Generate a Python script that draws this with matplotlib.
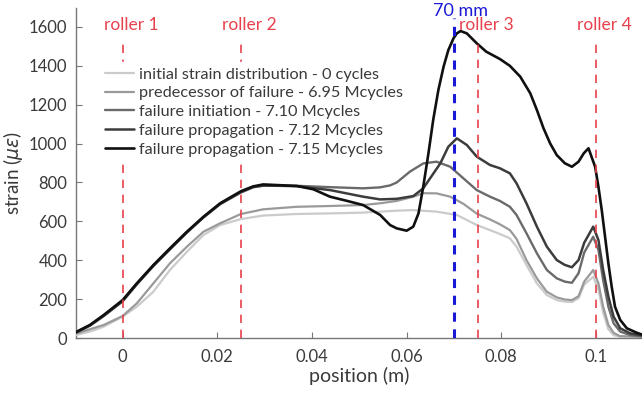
import matplotlib
matplotlib.use("Agg")
import matplotlib.pyplot as plt

plt.rcParams['font.family'] = ['Lato', 'DejaVu Sans']
plt.rcParams['mathtext.fontset'] = 'dejavusans'

# ---------------- data ----------------
x_initial = [-0.0099, -0.0069, -0.004, 0, 0.003, 0.0065, 0.01, 0.0136, 0.0171, 0.0206, 0.025, 0.0297,
             0.0368, 0.0438, 0.0508, 0.0579, 0.0614, 0.0663, 0.0706, 0.0748, 0.0776, 0.0797, 0.0818,
             0.0832, 0.0853, 0.0875, 0.0896, 0.0917, 0.0934, 0.0949, 0.0963, 0.0975, 0.0994, 0.1005,
             0.1015, 0.1026, 0.1037, 0.105, 0.11]
y_initial = [15, 33, 58, 110, 161, 238, 350, 444, 530, 581, 612, 630,
             638, 641, 645, 655, 658, 650, 633, 581, 555, 535, 513,
             470, 376, 281, 221, 195, 187, 185, 205, 275, 315, 250,
             130, 45, 15, 6, 3]

x_pred = [-0.0099, -0.0069, -0.004, 0, 0.003, 0.0065, 0.01, 0.0136, 0.0171, 0.0206, 0.025, 0.0297,
          0.0368, 0.0438, 0.0508, 0.0544, 0.0579, 0.0614, 0.0635, 0.0663, 0.0692, 0.072, 0.0748,
          0.0776, 0.0797, 0.0818, 0.0832, 0.0853, 0.0875, 0.0896, 0.0917, 0.0934, 0.0949, 0.0963,
          0.0975, 0.0994, 0.1005, 0.1015, 0.1026, 0.1037, 0.105, 0.11]
y_pred = [22, 45, 67, 113, 178, 281, 384, 470, 547, 590, 638, 662,
          675, 679, 684, 693, 705, 727, 745, 744, 727, 690, 640,
          610, 585, 555, 510, 401, 307, 238, 209, 198, 195, 215,
          290, 350, 281, 161, 67, 27, 10, 5]

x_init = [-0.0099, -0.0069, -0.004, 0, 0.003, 0.0065, 0.01, 0.0136, 0.0171, 0.0206, 0.025, 0.0276,
          0.0297, 0.0368, 0.0438, 0.0508, 0.0544, 0.0565, 0.0579, 0.0607, 0.0635, 0.0663, 0.0692,
          0.072, 0.0748, 0.0776, 0.0797, 0.0818, 0.0832, 0.0853, 0.0875, 0.0896, 0.0917, 0.0934,
          0.0949, 0.0963, 0.0975, 0.0994, 0.1005, 0.1015, 0.1026, 0.1037, 0.1051, 0.1072, 0.11]
y_init = [26, 63, 112, 188, 275, 370, 455, 542, 620, 688, 748, 775,
          783, 783, 776, 770, 775, 785, 800, 856, 898, 907, 881,
          821, 761, 727, 705, 675, 633, 539, 436, 350, 307, 290,
          284, 333, 440, 521, 453, 298, 161, 76, 33, 15, 8]

x_prop1 = [-0.0099, -0.0069, -0.004, 0, 0.003, 0.0065, 0.01, 0.0136, 0.0171, 0.0206, 0.025, 0.0276,
           0.0297, 0.0368, 0.0438, 0.0508, 0.0544, 0.0579, 0.0614, 0.0635, 0.0671, 0.0688, 0.0706,
           0.0727, 0.0748, 0.0776, 0.0797, 0.0818, 0.0832, 0.0853, 0.0875, 0.0896, 0.0917, 0.0934,
           0.0949, 0.0963, 0.0975, 0.0994, 0.1005, 0.1015, 0.1026, 0.1037, 0.1051, 0.1072, 0.1093,
           0.11]
y_prop1 = [28, 65, 115, 190, 278, 372, 458, 545, 622, 690, 752, 778,
           785, 781, 761, 727, 713, 716, 730, 770, 898, 984, 1027,
           993, 933, 890, 873, 847, 796, 693, 573, 470, 401, 376,
           364, 401, 490, 573, 504, 350, 213, 110, 50, 24, 15,
           12]

x_prop2 = [-0.0099, -0.0069, -0.004, 0, 0.003, 0.0065, 0.01, 0.0136, 0.0171, 0.0206, 0.025, 0.0276,
           0.0297, 0.0333, 0.0368, 0.0403, 0.0438, 0.0473, 0.0508, 0.0544, 0.0565, 0.0579, 0.06,
           0.0614, 0.0625, 0.0635, 0.0646, 0.0656, 0.0667, 0.0678, 0.0688, 0.0699, 0.0706, 0.0714,
           0.0727, 0.0748, 0.0768, 0.0797, 0.0818, 0.084, 0.0861, 0.0875, 0.0889, 0.0903, 0.0917,
           0.0934, 0.0949, 0.0963, 0.0974, 0.0984, 0.0998, 0.1005, 0.1012, 0.1019, 0.1026, 0.1033,
           0.104, 0.1051, 0.1065, 0.1086, 0.11]
y_prop2 = [30, 67, 118, 195, 281, 375, 461, 547, 624, 693, 755, 780,
           790, 786, 782, 765, 727, 706, 684, 633, 581, 564, 552,
           573, 641, 778, 950, 1121, 1276, 1396, 1481, 1542, 1567, 1579,
           1567, 1516, 1473, 1435, 1400, 1344, 1259, 1173, 1079, 1001, 941,
           899, 881, 907, 950, 976, 881, 778, 658, 521, 384, 264,
           161, 93, 50, 27, 15]

series_labels = ["initial strain distribution - 0 cycles",
                 "predecessor of failure - 6.95 Mcycles",
                 "failure initiation - 7.10 Mcycles",
                 "failure propagation - 7.12 Mcycles",
                 "failure propagation - 7.15 Mcycles"]

roller_pos = [0.0, 0.025, 0.075, 0.1]
roller_labels = ["roller 1", "roller 2", "roller 3", "roller 4"]
mark_pos = 0.07
mark_label = "70 mm"

xticks = [0, 0.02, 0.04, 0.06, 0.08, 0.1]
xtick_labels = ["0", "0.02", "0.04", "0.06", "0.08", "0.1"]
yticks = [0, 200, 400, 600, 800, 1000, 1200, 1400, 1600]

# ---------------- plot ----------------
fig = plt.figure(figsize=(6.42, 3.94), dpi=100)
ax = fig.add_axes([0.1179, 0.1421, 0.8843, 0.8388])

colors = ['#cbcbcb', '#9a9a9a', '#6a6a6a', '#3c3c3c', '#101010']
widths = [1.6, 1.6, 1.7, 1.8, 1.9]
xs = [x_initial, x_pred, x_init, x_prop1, x_prop2]
ys = [y_initial, y_pred, y_init, y_prop1, y_prop2]
handles = []
for xv, yv, c, w, lab in zip(xs, ys, colors, widths, series_labels):
    h, = ax.plot(xv, yv, color=c, lw=w, label=lab, zorder=3,
                 solid_joinstyle='round', solid_capstyle='round')
    handles.append(h)

red = '#e8404c'
for rp, rl in zip(roller_pos, roller_labels):
    ax.plot([rp, rp], [0, 1540], color=red, lw=1.2, ls=(0, (5, 4)), zorder=4)
    ax.text(rp + 0.0018, 1612, rl, color=red, fontsize=12.5, ha='center', va='center', zorder=6)

ax.plot([mark_pos, mark_pos], [0, 1645], color='#1a1ad6', lw=2.2, ls=(0, (3, 2.5)), zorder=5)
ax.text(mark_pos + 0.0013, 1683, mark_label, color='#1a1ad6', fontsize=13, ha='center', va='center', zorder=6)

ax.set_xlim(-0.0099, 0.11)
ax.set_ylim(0, 1700)
ax.set_xticks(xticks)
ax.set_xticklabels(xtick_labels)
ax.set_yticks(yticks)

for s in ['top', 'right']:
    ax.spines[s].set_visible(False)
for s in ['left', 'bottom']:
    ax.spines[s].set_color('#777777')
    ax.spines[s].set_linewidth(1.0)
ax.tick_params(direction='in', length=4, color='#777777', labelcolor='#3a3a3a', labelsize=12)
ax.tick_params(axis='x', pad=8)
ax.tick_params(axis='y', pad=6)

ax.set_xlabel("position (m)", fontsize=14, color='#3a3a3a', labelpad=1)
ax.set_ylabel(r"strain ($\mu\epsilon$)", fontsize=13.5, color='#3a3a3a', labelpad=3)

leg = ax.legend(handles=handles, loc='upper left', bbox_to_anchor=(0.043, 0.834),
                frameon=True, facecolor='white', edgecolor='white', framealpha=1.0,
                fancybox=False, borderaxespad=0, borderpad=0.3, fontsize=11.7,
                handlelength=1.8, handletextpad=0.3, labelspacing=0.27)
leg.set_zorder(7)
for t in leg.get_texts():
    t.set_color('#3a3a3a')

fig.savefig("out.png", dpi=100)
